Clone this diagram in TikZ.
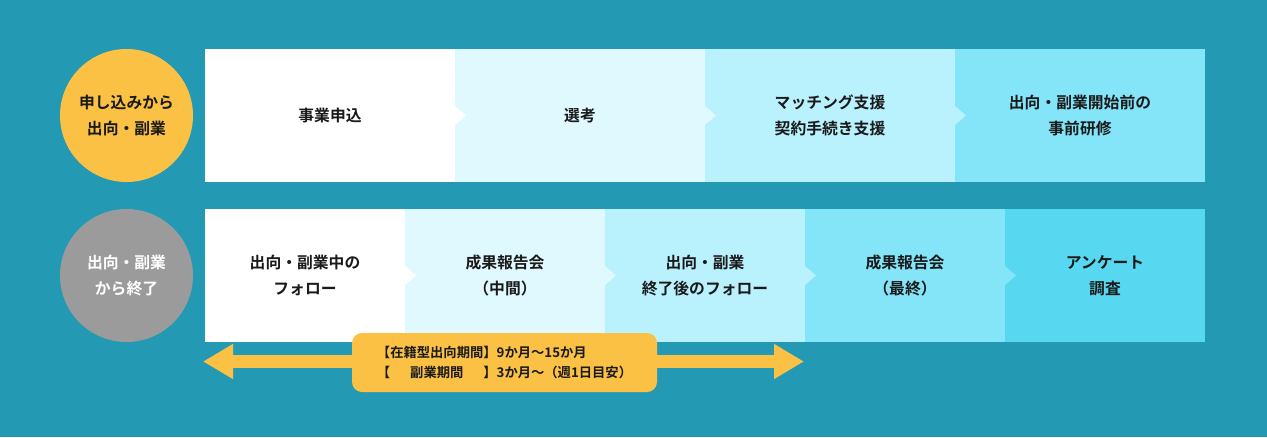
\documentclass[tikz,border=0pt]{standalone}
\usepackage{fontspec}
\setmainfont{Noto Sans CJK JP}[BoldFont={* Bold}]
\usepackage{calc}
\usetikzlibrary{arrows.meta}

\definecolor{bgteal}{HTML}{2399B3}
\definecolor{stepA}{HTML}{FFFFFF}
\definecolor{stepB}{HTML}{E0F9FE}
\definecolor{stepC}{HTML}{B9F1FC}
\definecolor{stepD}{HTML}{84E5F9}
\definecolor{stepE}{HTML}{57D8F0}
\definecolor{headorange}{HTML}{FBC145}
\definecolor{headgray}{HTML}{9B9B9B}
\definecolor{ink}{HTML}{1A1A1A}

\begin{document}
\begin{tikzpicture}[x=1pt, y=-1pt,
    stepbox/.style={rectangle, minimum width=250pt, minimum height=133pt,
        inner sep=0pt, outer sep=0pt, align=center, text=ink,
        font=\fontsize{15.8}{26}\selectfont\bfseries},
    shortbox/.style={stepbox, minimum width=200pt},
    headcircle/.style={circle, minimum size=133pt, inner sep=0pt, align=center,
        font=\fontsize{15.8}{26}\selectfont\bfseries},
    periodbox/.style={rectangle, fill=headorange, rounded corners=10pt,
        minimum width=305pt, minimum height=59pt, inner sep=0pt, align=left,
        text=ink, font=\fontsize{13.3}{20}\selectfont\bfseries},
    spanarrow/.style={headorange, line width=13pt,
        {Triangle[length=30pt,width=33pt]}-{Triangle[length=30pt,width=33pt]}}
  ]
    \fill[bgteal] (0,0) rectangle (1267,437);

    % upper row
    \node[headcircle, fill=headorange, text=ink] (startcircle) at (126.5,115.5) {申し込みから\\出向・副業};

    \node[stepbox, fill=stepA] (apply) at (330,115.5) {事業申込};
    \node[stepbox, fill=stepB] (select) at (580,115.5) {選考};
    \node[stepbox, fill=stepC] (matching) at (830,115.5) {マッチング支援\\契約手続き支援};
    \node[stepbox, fill=stepD] (training) at (1080,115.5) {出向・副業開始前の\\事前研修};

    \fill[stepA] (apply.east) ++(0,-9.5) -- ++(11,9.5) -- ++(-11,9.5) -- cycle;
    \fill[stepB] (select.east) ++(0,-9.5) -- ++(11,9.5) -- ++(-11,9.5) -- cycle;
    \fill[stepC] (matching.east) ++(0,-9.5) -- ++(11,9.5) -- ++(-11,9.5) -- cycle;

    % lower row
    \node[headcircle, fill=headgray, text=white] (endcircle) at (126.5,275.5) {出向・副業\\から終了};

    \node[shortbox, fill=stepA] (follow) at (305,275.5) {出向・副業中の\\フォロー};
    \node[shortbox, fill=stepB] (midreport) at (505,275.5) {成果報告会\\（中間）};
    \node[shortbox, fill=stepC] (afterfollow) at (705,275.5) {出向・副業\\終了後のフォロー};
    \node[shortbox, fill=stepD] (finalreport) at (905,275.5) {成果報告会\\（最終）};
    \node[shortbox, fill=stepE] (survey) at (1105,275.5) {アンケート\\調査};

    \fill[stepA] (follow.east) ++(0,-9.5) -- ++(11,9.5) -- ++(-11,9.5) -- cycle;
    \fill[stepB] (midreport.east) ++(0,-9.5) -- ++(11,9.5) -- ++(-11,9.5) -- cycle;
    \fill[stepC] (afterfollow.east) ++(0,-9.5) -- ++(11,9.5) -- ++(-11,9.5) -- cycle;
    \fill[stepD] (finalreport.east) ++(0,-9.5) -- ++(11,9.5) -- ++(-11,9.5) -- cycle;

    % period
    \coordinate (spanstart) at (203,361.5);
    \coordinate (spanend) at (804,361.5);
    \draw[spanarrow] (spanstart) -- (spanend);

    \node[periodbox] (period) at (504.5,362.5) {【在籍型出向期間】9か月～15か月\\【\makebox[\widthof{在籍型出向期間}]{副業期間}】3か月～（週1日目安）};
\end{tikzpicture}
\end{document}
